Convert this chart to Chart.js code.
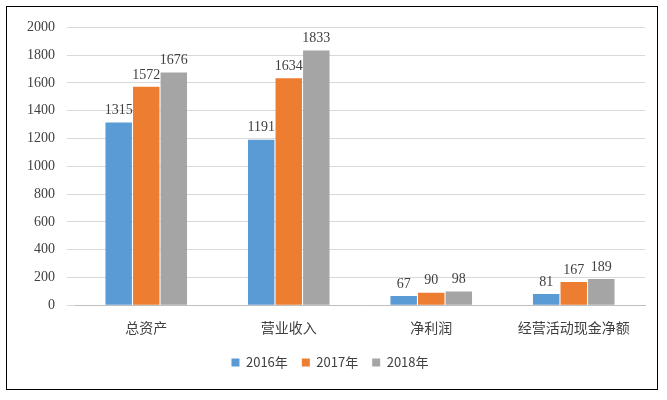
<!DOCTYPE html>
<html><head><meta charset="utf-8">
<script src="https://cdn.jsdelivr.net/npm/chart.js@4"></script>
<style>html,body{margin:0;padding:0;background:#fff}
#wrap{position:absolute;left:6px;top:6px;width:652px;height:384px;border:1px solid #000;box-sizing:border-box}
</style></head><body>
<div id="wrap"><canvas id="c"></canvas></div>
<script>
const categories=["总资产","营业收入","净利润","经营活动现金净额"];
const seriesNames=["2016年","2017年","2018年"];
const v2016=[1315,1191,67,81];
const v2017=[1572,1634,90,167];
const v2018=[1676,1833,98,189];
const yTicks=[0,200,400,600,800,1000,1200,1400,1600,1800,2000];
const colors=["#5B9BD5","#ED7D31","#A5A5A5"];
const font="'Noto Sans CJK SC','Liberation Serif',serif";
const labelPlugin={id:'lbl',afterDatasetsDraw(ch){const ctx=ch.ctx;ctx.save();ctx.fillStyle='#404040';ctx.font="14px 'Liberation Serif',serif";ctx.textAlign='center';ctx.textBaseline='bottom';
ch.data.datasets.forEach((d,i)=>{ch.getDatasetMeta(i).data.forEach((b,j)=>{ctx.fillText(d.data[j],b.x,b.y-5);});});ctx.restore();}};
new Chart(document.getElementById('c'),{type:'bar',
data:{labels:categories,datasets:[v2016,v2017,v2018].map((d,i)=>({label:seriesNames[i],data:d,backgroundColor:colors[i],barPercentage:0.96,categoryPercentage:0.58}))},
options:{responsive:true,maintainAspectRatio:false,animation:false,
layout:{padding:{left:8,right:12,top:12,bottom:10}},
plugins:{legend:{position:'bottom',labels:{boxWidth:8,boxHeight:8,color:'#404040',font:{family:font,size:13},padding:14}},tooltip:{enabled:false}},
scales:{x:{grid:{display:false},border:{color:'#bfbfbf'},ticks:{color:'#404040',font:{family:font,size:14},padding:6}},
y:{min:0,max:2000,afterBuildTicks(a){a.ticks=yTicks.map(v=>({value:v}));},grid:{color:'#d9d9d9'},border:{display:false},ticks:{color:'#404040',callback:v=>String(v),font:{family:"'Liberation Serif',serif",size:14},padding:12}}}},
plugins:[labelPlugin]});
</script></body></html>
